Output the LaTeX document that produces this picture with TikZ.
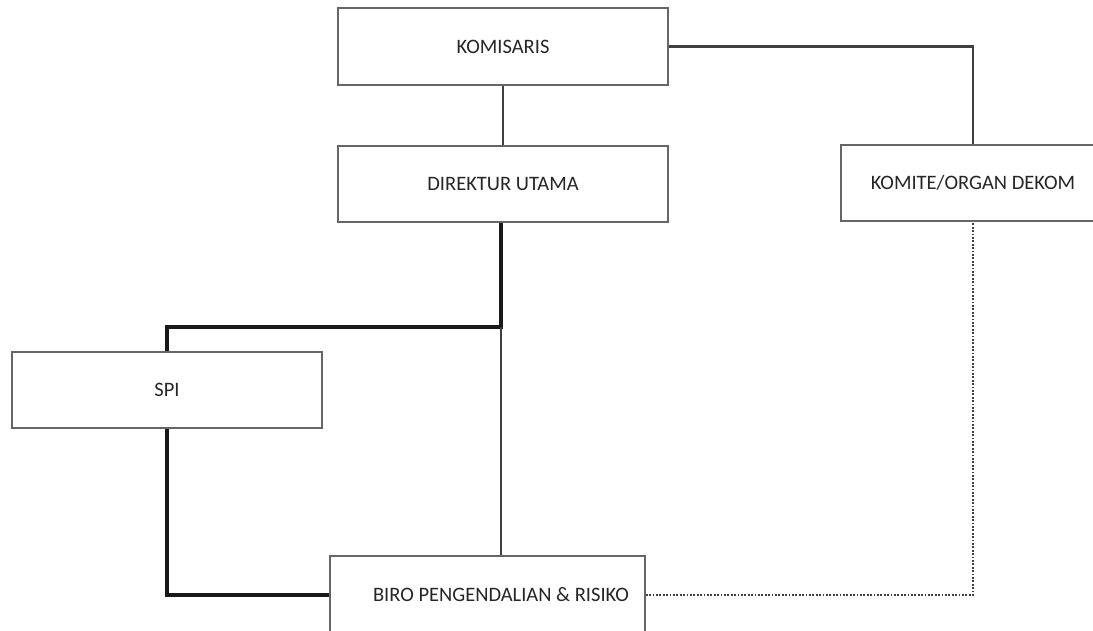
\documentclass[tikz,border=0pt]{standalone}
\usepackage{fontspec}
\setmainfont{Carlito}
\begin{document}
\begin{tikzpicture}[x=1pt,y=-1pt,
  unitbox/.style={draw=black!60,line width=1.7pt,fill=white,inner sep=0pt,
    font=\fontsize{20.5}{24}\selectfont,text=black!85},
  thinlink/.style={draw=black!75,line width=2.2pt},
  thicklink/.style={draw=black!90,line width=3.2pt},
  dotlink/.style={draw=black!75,line width=2pt,dash pattern=on 1.8pt off 1.6pt}]
  \useasboundingbox (0,0) rectangle (1093,631);
  \clip (0,0) rectangle (1093,631);
  \fill[white] (0,0) rectangle (1093,631);

  % boxes
  \node[unitbox,minimum width=330pt,minimum height=77pt] (kom) at (503,46.5) {KOMISARIS};
  \node[unitbox,minimum width=330pt,minimum height=76pt] (dir) at (503,184) {DIREKTUR UTAMA};
  \node[unitbox,minimum width=264pt,minimum height=76pt] (komite) at (973,183) {KOMITE/ORGAN DEKOM};
  \node[unitbox,minimum width=310pt,minimum height=76pt] (spi) at (167,390) {SPI};
  \node[unitbox,minimum width=315pt,minimum height=78pt] (biro) at (487.5,595) {};
  \node[font=\fontsize{20.5}{24}\selectfont,text=black!85,inner sep=0pt] (birotext) at (501,595) {BIRO PENGENDALIAN \& RISIKO};

  % junction below the director
  \coordinate (j) at (501,327);

  % lines of command
  \draw[thinlink] (kom.south) -- (dir.north);
  \draw[thinlink] (kom.east) -| (komite.north);
  \draw[thicklink] (dir.south -| j) -- (j) -| (spi.north);
  \draw[thinlink] (j) -- (j |- biro.north);
  \draw[thicklink] (spi.south) |- (biro.west);
  \draw[dotlink] (biro.east) -| (komite.south);
\end{tikzpicture}
\end{document}
